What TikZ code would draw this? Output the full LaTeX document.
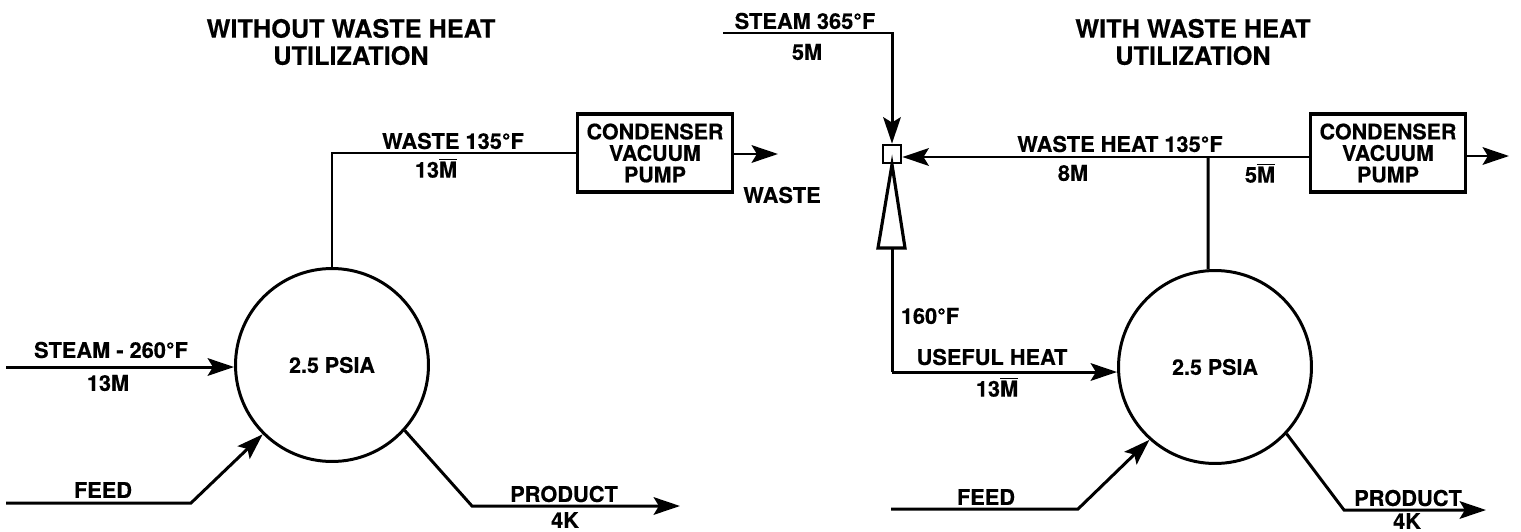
\documentclass[tikz,border=0pt]{standalone}
\usepackage{fontspec}
\setmainfont[BoldFeatures={FakeBold=0.4}]{TeX Gyre Heros}
\usetikzlibrary{arrows.meta,positioning}
\newcommand{\mbar}{$\overline{\mbox{M}}$}
\tikzset{
  pipe/.style={draw, line width=1.7pt},
  flow/.style={pipe, -{Stealth[length=15pt,width=10pt,inset=3pt]}},
  vessel/.style={circle, draw, line width=1.7pt, minimum size=3.86cm, inner sep=0pt, font=\fontsize{12.2}{14}\selectfont\bfseries},
  pumpbox/.style={draw, line width=1.8pt, align=center, inner sep=0pt, minimum width=3.1cm, minimum height=1.56cm, font=\fontsize{12.2}{12.2}\selectfont\bfseries},
  lbl/.style={inner sep=0pt, align=center, font=\fontsize{12.4}{14}\selectfont\bfseries},
  titlelbl/.style={inner sep=0pt, align=center, font=\fontsize{14.4}{15.4}\selectfont\bfseries}
}
\begin{document}
\begin{tikzpicture}[x=0.02cm,y=-0.02cm]
  \useasboundingbox (0,0) rectangle (1521,531);

  \node[titlelbl] (titleA) at (351,42) {WITHOUT WASTE HEAT\\UTILIZATION};
  \node[titlelbl] (titleB) at (1193,42) {WITH WASTE HEAT\\UTILIZATION};

  \node[vessel] (tankA) at (332,365) {2.5 PSIA};
  \node[pumpbox] (pumpA) at (655,153) {CONDENSER\\VACUUM\\PUMP};
  \coordinate (elbowA) at (tankA.north |- pumpA.west);
  \coordinate (wasteEnd) at (778,154);
  \coordinate (steamA) at (6,367);
  \coordinate (feedA0) at (6,503);
  \coordinate (feedA1) at (191,503);
  \coordinate (prodA1) at (472,506);
  \coordinate (prodA2) at (680,506);

  \draw[pipe] (tankA.north) -- (elbowA) -- (pumpA.west);
  \draw[flow] (pumpA.east |- wasteEnd) -- (wasteEnd);
  \draw[flow] (steamA) -- (tankA.west |- steamA);
  \draw[flow] (feedA0) -- (feedA1) -- (tankA.225);
  \draw[flow] (tankA.-42) -- (prodA1) -- (prodA2);

  \node[lbl] (wasteA) at (453,141) {WASTE 135°F};
  \node[lbl] (flowA) at (436,168) {13\mbar};
  \node[lbl] (wasteB) at (782,195) {WASTE};
  \node[lbl] (steamAlbl) at (111,350) {STEAM - 260°F};
  \node[lbl] (steamAval) at (108,383) {13M};
  \node[lbl] (feedAlbl) at (103,490) {FEED};
  \node[lbl] (prodAlbl) at (564,494) {PRODUCT};
  \node[lbl] (prodAval) at (565,520) {4K};

  \node[vessel] (tankB) at (1215,367) {2.5 PSIA};
  \node[pumpbox] (pumpB) at (1388,153) {CONDENSER\\VACUUM\\PUMP};
  \node[draw, line width=1.6pt, minimum size=0.36cm, inner sep=0pt] (mixer) at (892,154) {};
  \coordinate (steamB0) at (723,33);
  \coordinate (steamB1) at (mixer.north |- steamB0);
  \coordinate (nozzleL) at (878,248);
  \coordinate (nozzleR) at (905,248);
  \coordinate (nozzleB) at (mixer.south |- nozzleL);
  \coordinate (usefulB) at (mixer.south |- 0,372);
  \coordinate (teeB) at (1208,157);
  \coordinate (ventB) at (1509,156);
  \coordinate (feedB0) at (891,509);
  \coordinate (feedB1) at (1078,509);
  \coordinate (prodB1) at (1344,510);
  \coordinate (prodB2) at (1486,510);

  \draw[flow] (steamB0) -- (steamB1) -- (mixer.north);
  \draw[line width=1.8pt] (mixer.south) -- (nozzleL) -- (nozzleR) -- cycle;
  \draw[pipe] (usefulB) -- (nozzleB);
  \draw[flow] (usefulB) -- (tankB.west |- usefulB);
  \draw[flow] (pumpB.west |- teeB) -- (mixer.east |- teeB);
  \draw[pipe] (tankB.94) -- (teeB);
  \draw[flow] (pumpB.east |- ventB) -- (ventB);
  \draw[flow] (feedB0) -- (feedB1) -- (tankB.228);
  \draw[flow] (tankB.-43) -- (prodB1) -- (prodB2);

  \node[lbl] (steamBlbl) at (805,21) {STEAM 365°F};
  \node[lbl] (steamBval) at (807,52) {5M};
  \node[lbl] (wasteBlbl) at (1120,144) {WASTE HEAT 135°F};
  \node[lbl] (flowB1) at (1073,173) {8M};
  \node[lbl] (flowB2) at (1260,173) {5\mbar};
  \node[lbl] (tempB) at (930,316) {160°F};
  \node[lbl] (usefulBlbl) at (992,357) {USEFUL HEAT};
  \node[lbl] (usefulBval) at (997,387) {13\mbar};
  \node[lbl] (feedBlbl) at (986,497) {FEED};
  \node[lbl] (prodBlbl) at (1408,498) {PRODUCT};
  \node[lbl] (prodBval) at (1407,521) {4K};
\end{tikzpicture}
\end{document}
